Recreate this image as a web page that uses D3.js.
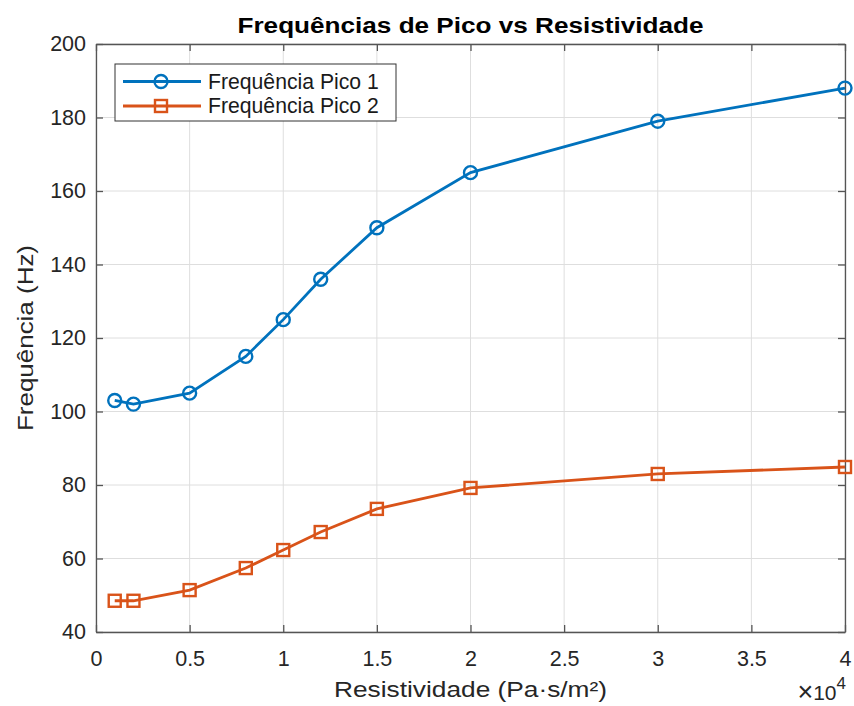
<!DOCTYPE html>
<html>
<head>
<meta charset="utf-8">
<script src="https://cdn.jsdelivr.net/npm/d3@7"></script>
<style>
  html, body { margin: 0; padding: 0; background: #fff; }
  svg text { font-family: "Liberation Sans", Arial, Helvetica, sans-serif; }
</style>
</head>
<body>
<svg id="chart" width="854" height="706"></svg>
<script>
// Resistividade (Pa·s/m²)
const resistividade = [1000, 2000, 5000, 8000, 10000, 12000, 15000, 20000, 30000, 40000];
// Frequências de pico (Hz)
const pico1 = [103, 102, 105, 115, 125, 136, 150, 165, 179, 188];
const pico2 = [48.5, 48.5, 51.4, 57.4, 62.3, 67.2, 73.5, 79.2, 83, 84.9];

const xTicks = [0, 5000, 10000, 15000, 20000, 25000, 30000, 35000, 40000];
const yTicks = [40, 60, 80, 100, 120, 140, 160, 180, 200];

const series = [
  { name: "Frequência Pico 1", values: pico1, color: "#0072BD", marker: "circle" },
  { name: "Frequência Pico 2", values: pico2, color: "#D95319", marker: "square" }
];

const svg = d3.select("#chart");
const margin = { left: 96, right: 9, top: 44, bottom: 74 };
const W = 854, H = 706;
const iw = W - margin.left - margin.right;
const ih = H - margin.top - margin.bottom;

const x = d3.scaleLinear().domain([0, 40000]).range([0, iw]);
const y = d3.scaleLinear().domain([40, 200]).range([ih, 0]);

const g = svg.append("g").attr("transform", `translate(${margin.left},${margin.top})`);

const axisColor = "#262626";
const gridColor = "#dedede";

// grid
g.append("g").selectAll("line").data(xTicks).join("line")
  .attr("x1", d => x(d)).attr("x2", d => x(d)).attr("y1", 0).attr("y2", ih)
  .attr("stroke", gridColor).attr("stroke-width", 1);
g.append("g").selectAll("line").data(yTicks).join("line")
  .attr("y1", d => y(d)).attr("y2", d => y(d)).attr("x1", 0).attr("x2", iw)
  .attr("stroke", gridColor).attr("stroke-width", 1);

// axes (ticks inward)
const fmtX = d => d3.format("~g")(d / 10000);
const xAxis = d3.axisBottom(x).tickValues(xTicks).tickFormat(fmtX).tickSizeInner(-7).tickSizeOuter(0).tickPadding(19);
const xTop = d3.axisTop(x).tickValues(xTicks).tickFormat("").tickSizeInner(-7).tickSizeOuter(0);
const yAxis = d3.axisLeft(y).tickValues(yTicks).tickSizeInner(-7).tickSizeOuter(0).tickPadding(10);
const yRight = d3.axisRight(y).tickValues(yTicks).tickFormat("").tickSizeInner(-7).tickSizeOuter(0);

function styleAxis(sel) {
  sel.select(".domain").attr("stroke", "#555").attr("stroke-width", 1.3);
  sel.selectAll(".tick line").attr("stroke", "#555").attr("stroke-width", 1.3);
  sel.selectAll(".tick text").attr("fill", axisColor).attr("font-size", 21.5)
    .attr("font-family", "Liberation Sans, Arial, sans-serif");
}
g.append("g").attr("transform", `translate(0,${ih})`).call(xAxis).call(styleAxis);
g.append("g").call(xTop).call(styleAxis);
g.append("g").call(yAxis).call(styleAxis);
g.append("g").attr("transform", `translate(${iw},0)`).call(yRight).call(styleAxis);

// lines and markers
const line = d3.line().x((d, i) => x(resistividade[i])).y(d => y(d));
series.forEach(s => {
  g.append("path").datum(s.values).attr("d", line)
    .attr("fill", "none").attr("stroke", s.color).attr("stroke-width", 2.8);
  const mg = g.append("g");
  if (s.marker === "circle") {
    mg.selectAll("circle").data(s.values).join("circle")
      .attr("cx", (d, i) => x(resistividade[i])).attr("cy", d => y(d)).attr("r", 6.5)
      .attr("fill", "none").attr("stroke", s.color).attr("stroke-width", 2.4);
  } else {
    mg.selectAll("rect").data(s.values).join("rect")
      .attr("x", (d, i) => x(resistividade[i]) - 6).attr("y", d => y(d) - 6)
      .attr("width", 12).attr("height", 12)
      .attr("fill", "none").attr("stroke", s.color).attr("stroke-width", 2.4);
  }
});

// legend
const lg = g.append("g").attr("transform", "translate(19,20)");
lg.append("rect").attr("width", 281).attr("height", 57)
  .attr("fill", "#fff").attr("stroke", "#333").attr("stroke-width", 1);
series.forEach((s, i) => {
  const cy = 17.5 + i * 24.5;
  lg.append("line").attr("x1", 8).attr("x2", 86).attr("y1", cy).attr("y2", cy)
    .attr("stroke", s.color).attr("stroke-width", 2.8);
  if (s.marker === "circle") {
    lg.append("circle").attr("cx", 46).attr("cy", cy).attr("r", 6.5)
      .attr("fill", "none").attr("stroke", s.color).attr("stroke-width", 2.4);
  } else {
    lg.append("rect").attr("x", 40).attr("y", cy - 6).attr("width", 12).attr("height", 12)
      .attr("fill", "none").attr("stroke", s.color).attr("stroke-width", 2.4);
  }
  lg.append("text").attr("x", 93).attr("y", cy + 7).attr("font-size", 21.2)
    .attr("fill", "#1a1a1a").text(s.name);
});

// title and labels
svg.append("text").attr("x", margin.left + iw / 2).attr("y", 33)
  .attr("text-anchor", "middle").attr("font-size", 22.5).attr("font-weight", "bold")
  .attr("textLength", 466).attr("lengthAdjust", "spacingAndGlyphs")
  .attr("fill", "#000").text("Frequências de Pico vs Resistividade");
svg.append("text").attr("x", margin.left + iw / 2).attr("y", 697)
  .attr("text-anchor", "middle").attr("font-size", 22.5).attr("fill", axisColor)
  .attr("textLength", 273).attr("lengthAdjust", "spacingAndGlyphs")
  .text("Resistividade (Pa·s/m²)");
svg.append("text").attr("transform", `translate(33,${margin.top + ih / 2}) rotate(-90)`)
  .attr("text-anchor", "middle").attr("font-size", 22.5).attr("fill", axisColor)
  .attr("textLength", 186).attr("lengthAdjust", "spacingAndGlyphs")
  .text("Frequência (Hz)");

// x exponent
const ex = svg.append("text").attr("x", 846).attr("y", 700).attr("text-anchor", "end")
  .attr("fill", axisColor).attr("font-size", 21);
ex.append("tspan").attr("font-size", 27).attr("dy", 1).text("×");
ex.append("tspan").attr("dy", -1).text("10");
ex.append("tspan").attr("dy", -11).attr("font-size", 17).text("4");
</script>
</body>
</html>
